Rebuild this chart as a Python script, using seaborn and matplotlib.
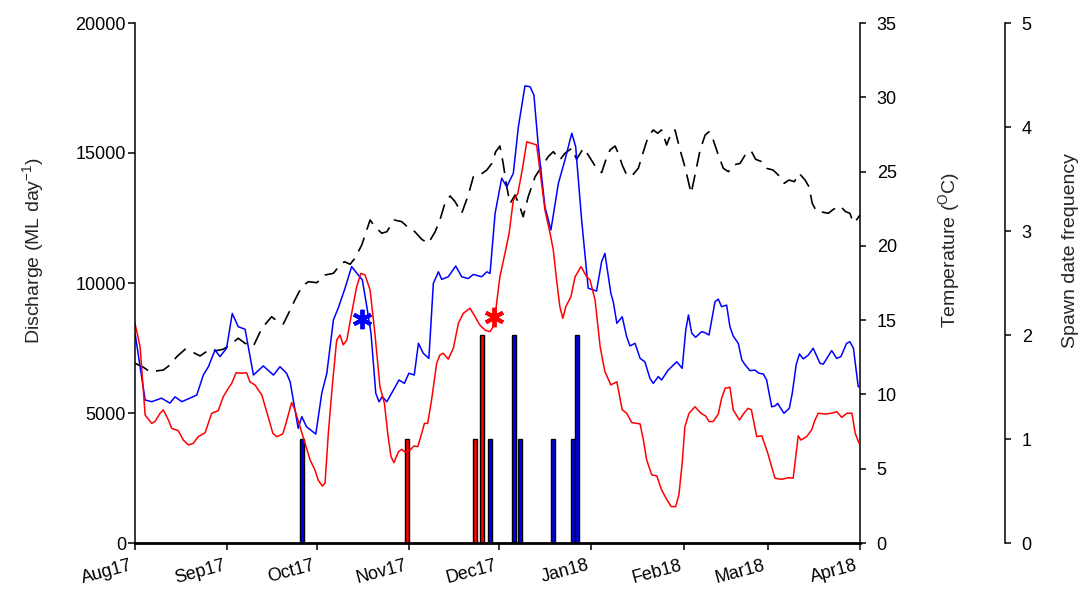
import numpy as np
import pandas as pd
import matplotlib
matplotlib.use("Agg")
import matplotlib.pyplot as plt
import matplotlib.dates as mdates
import matplotlib.transforms as mtransforms
import seaborn as sns

sns.set_style("ticks")
plt.rcParams['font.family'] = ['Liberation Sans', 'DejaVu Sans']
plt.rcParams['mathtext.default'] = 'regular'

START = pd.Timestamp("2017-08-01")

# Discharge site 1 (blue), days since 1 Aug 2017, ML/day
blue_day = [0, 3.4, 5.6, 8.9, 11.7, 13.4, 15.7, 20.7, 22.9, 24.6, 26.8, 28.5, 30.7, 32.6, 34.6, 36.9,
            39.7, 43.0, 46.4, 48.6, 50.8, 52.0, 54.7, 55.9, 57.5, 60.6, 62.6, 64.3, 66.5, 68.1, 70.4,
            72.6, 74.8, 76.2, 77.7, 79.1, 80.7, 81.8, 82.9, 84.4, 86.0, 88.5, 90.3, 91.8, 93.6, 95.0,
            96.6, 98.5, 100.0, 101.7, 102.8, 105.0, 107.5, 109.5, 111.7, 113.4, 116.2, 117.9, 119.0,
            120.7, 122.9, 124.6, 126.8, 128.5, 130.7, 132.4, 133.7, 135.2, 137.4, 139.4, 141.9, 144.1,
            146.4, 147.7, 149.7, 151.9, 154.7, 156.4, 157.5, 159.5, 160.3, 161.5, 163.3, 164.8, 165.9,
            167.6, 169.3, 170.9, 172.6, 173.7, 175.4, 176.5, 178.7, 181.6, 183.4, 184.6, 185.5, 186.6,
            187.9, 189.9, 191.0, 192.4, 194.4, 195.5, 196.6, 198.3, 199.4, 200.5, 202.2, 203.4, 204.5,
            206.1, 207.8, 209.1, 210.6, 211.7, 213.4, 214.5, 215.4, 217.5, 219.3, 220.3, 221.6, 222.7,
            224.0, 225.7, 227.3, 229.6, 230.7, 233.5, 235.2, 236.6, 238.5, 239.6, 240.8, 242.4, 243.0]
blue_q = [8080, 5500, 5435, 5570, 5380, 5620, 5435, 5690, 6460, 6780, 7420, 7170, 7490, 8830, 8320, 8220,
          6460, 6810, 6460, 6780, 6530, 6200, 4410, 4860, 4470, 4190, 5760, 6530, 8580, 9030, 9800,
          10630, 10310, 10120, 9090, 8070, 5760, 5430, 5630, 5430, 5760, 6270, 6140, 6530, 6460, 7680,
          7300, 7100, 9990, 10430, 10140, 10240, 10650, 10240, 10170, 10330, 10240, 10430, 10370,
          12680, 14030, 13700, 14220, 16010, 17580, 17550, 17230, 15240, 12930, 12040, 13830, 14730,
          15760, 15240, 12420, 9800, 9690, 10820, 11140, 9600, 9280, 8450, 8700, 7930, 7580,
          7680, 7100, 6970, 6330, 6140, 6400, 6270, 6650, 6970, 6720, 8190, 8770, 8070,
          7910, 8130, 8090, 8000, 9280, 9380, 9090, 9150, 8320, 7960, 7680, 7040, 6850,
          6630, 6650, 6530, 6500, 6270, 5240, 5270, 5370, 4990, 5180, 5760, 6850, 7270,
          7080, 7230, 7490, 6910, 6880, 7400, 7100, 7170, 7680, 7740, 7490, 6010, 6010]

# Discharge site 2 (red)
red_day = [0, 1.7, 3.4, 5.6, 6.7, 8.4, 9.5, 11.2, 12.3, 14.5, 16.2, 17.9, 19.5, 21.2, 23.5, 25.7, 27.9,
           29.6, 31.3, 32.4, 33.9, 35.8, 37.4, 38.5, 40.2, 42.5, 44.3, 46.2, 47.5, 49.5, 50.6, 52.5,
           53.6, 55.3, 57.0, 58.7, 60.3, 61.4, 62.8, 63.7, 64.8, 66.1, 67.6, 68.7, 69.8, 71.0, 72.6,
           74.3, 75.7, 77.1, 78.8, 80.4, 82.1, 83.6, 84.7, 85.8, 86.8, 88.3, 89.4, 90.8, 92.2, 93.5,
           94.8, 96.1, 97.0, 98.1, 99.4, 101.1, 102.2, 103.3, 105.0, 106.7, 108.4, 110.0, 112.3, 114.0,
           115.6, 117.3, 119.0, 120.4, 121.2, 122.3, 124.0, 125.4, 126.8, 128.3, 129.8, 131.3, 133.5,
           134.6, 135.7, 137.4, 139.1, 140.2, 141.3, 142.4, 143.4, 144.4, 146.1, 147.5, 149.5, 151.4,
           152.5, 154.2, 155.9, 157.5, 159.5, 161.5, 163.3, 164.8, 166.5, 169.3, 170.4, 171.5, 173.2,
           174.9, 176.5, 178.2, 179.7, 181.2, 182.3, 183.4, 184.3, 185.7, 187.7, 189.7, 191.3, 192.4,
           193.8, 195.5, 196.6, 197.8, 199.4, 200.5, 202.6, 204.1, 205.5, 206.6, 208.4, 210.1, 212.1,
           214.5, 216.8, 219.0, 220.6, 222.3, 223.2, 225.1, 226.8, 227.9, 229.0, 231.3, 233.5, 235.2,
           236.9, 238.6, 240.3, 241.4, 242.7]
red_q = [8450, 7550, 4920, 4600, 4670, 4990, 5120, 4730, 4410, 4320, 3960, 3770, 3830, 4090, 4240, 4990, 5090,
         5630, 5950, 6140, 6550, 6530, 6550, 6200, 6080, 5690, 4990, 4220, 4090, 4190, 4600, 5400,
         5120, 4470, 3830, 3190, 2810, 2420, 2190, 2300, 4220, 6010, 7810, 8000, 7620, 7810, 8830,
         9860, 10370, 10310, 9730, 8070, 6010, 5370, 4220, 3320, 3090, 3510, 3600, 3470, 3580, 3730,
         3710, 4220, 4600, 4600, 5500, 6910, 7230, 7300, 7070, 7490, 8450, 8830, 9030, 8700,
         8380, 8190, 8130, 8380, 9220, 10240, 11140, 11920, 13190, 13440, 14350, 15430, 15350,
         15310, 14350, 12810, 11920, 11270, 10120, 9090, 8640, 9090, 9470, 10240, 10630, 10240,
         10120, 9350, 7550, 6590, 6080, 6200, 5120, 4990, 4630, 4580, 3960, 3190, 2620,
         2580, 2040, 1680, 1400, 1400, 1850, 3070, 4470, 4990, 5240, 4990, 4880, 4670,
         4670, 4960, 5560, 5950, 5990, 5120, 4730, 4990, 5180, 5120, 4090, 4120, 3450,
         2490, 2450, 2510, 2490, 4120, 3960, 4090, 4350, 4730, 4990, 4960, 4990, 5050,
         4830, 4990, 4990, 4220, 3830]

# Water temperature (black dashed), deg C
temp_day = [0, 2.8, 5.0, 9.5, 11.7, 14.0, 16.8, 19.0, 21.8, 25.1, 27.4, 29.6, 31.8, 34.6, 36.9, 39.7,
            42.5, 45.8, 47.5, 49.7, 52.0, 53.6, 55.9, 58.1, 60.9, 63.7, 66.5, 68.7, 70.2, 72.1, 73.7,
            76.0, 78.8, 80.4, 82.7, 84.4, 86.9, 89.4, 91.6, 93.8, 96.1, 98.3, 100.6, 102.2, 103.7,
            105.6, 107.3, 109.5, 111.7, 113.4, 115.6, 117.9, 119.6, 120.9, 122.3, 123.4, 124.6, 125.7,
            127.4, 129.0, 130.1, 131.8, 134.1, 136.3, 138.5, 140.2, 142.4, 144.1, 146.4, 148.0, 150.3,
            151.9, 154.7, 156.4, 157.8, 159.2, 160.9, 162.0, 163.3, 164.8, 166.5, 168.7, 170.4, 172.0,
            173.7, 175.2, 176.5, 178.2, 179.7, 181.0, 182.7, 184.3, 186.4, 187.7, 189.4, 191.1, 192.4,
            193.8, 195.5, 197.2, 198.9, 200.5, 202.8, 204.5, 206.5, 208.0, 210.1, 211.7, 213.9, 215.6,
            217.6, 219.2, 221.0, 222.6, 224.6, 225.9, 227.0, 228.5, 230.7, 232.4, 234.1, 236.3, 238.2,
            239.6, 240.8, 242.0, 243.0]
temp_c = [12.1, 11.83, 11.53, 11.64, 11.98, 12.54, 13.04, 12.88, 12.59, 13.04, 12.95, 13.04, 13.33, 13.78,
          13.44, 13.26, 14.45, 15.23, 14.96, 14.74, 15.68, 16.36, 17.25, 17.59, 17.52, 18.04, 18.15,
          18.71, 18.93, 18.76, 19.16, 20.06, 21.74, 21.29, 20.85, 20.95, 21.74, 21.63, 21.22, 20.95,
          20.44, 20.17, 20.95, 21.74, 22.75, 23.36, 22.97, 22.19, 23.42, 24.65, 24.77, 25.1, 25.55,
          26.34, 26.72, 25.55, 23.98, 22.86, 23.42, 22.63, 21.96, 23.31, 24.65, 25.33, 26.0, 26.34,
          25.78, 26.23, 26.57, 25.83, 26.57, 26.12, 25.22, 24.93, 25.78, 26.45, 26.72, 26.23, 25.44,
          24.77, 24.70, 25.22, 26.34, 27.35, 27.8, 27.58, 27.8, 26.79, 27.58, 27.8, 26.45, 25.33,
          23.54, 24.77, 26.45, 27.46, 27.68, 27.13, 26.12, 25.22, 24.99, 25.44, 25.55, 26.12, 26.4,
          25.83, 25.66, 25.22, 25.1, 24.77, 24.21, 24.43, 24.32, 24.88, 24.43, 23.98, 22.86, 22.3,
          22.26, 22.19, 22.46, 22.68, 22.3, 22.19, 21.56, 21.79, 22.08]

# Spawn dates (frequency)
spawn_blue_day = [56.0, 119.1, 127.1, 129.1, 140.1, 146.9, 148.0]
spawn_blue_n = [1, 1, 2, 1, 1, 1, 2]
spawn_red_day = [91.2, 114.1, 116.2]
spawn_red_n = [1, 1, 2]

# Asterisks
star_day = [76.2, 120.2]
star_q = [8600, 8700]
star_col = ["blue", "red"]


def to_dates(days):
    return START + pd.to_timedelta(np.asarray(days, dtype=float), unit="D")


W, H = 1084, 592
fig = plt.figure(figsize=(W / 100, H / 100), dpi=100)
L, R, T, B = 135, 860, 23, 543
ax = fig.add_axes([L / W, 1 - B / H, (R - L) / W, (B - T) / H])
ax2 = ax.twinx()
ax3 = ax.twinx()
ax3.spines['right'].set_position(('axes', 1 + 145 / (R - L)))

# bars (spawn frequency)
bw = pd.Timedelta(days=1.3)
ax3.bar(to_dates(spawn_blue_day), spawn_blue_n, width=bw, color="#0000ee", edgecolor="black", linewidth=1.0, zorder=2)
ax3.bar(to_dates(spawn_red_day), spawn_red_n, width=bw, color="#ff0000", edgecolor="black", linewidth=1.0, zorder=2)

# discharge lines
sns.lineplot(x=to_dates(blue_day), y=blue_q, ax=ax, color="#0000ff", lw=1.1, estimator=None, sort=False)
sns.lineplot(x=to_dates(red_day), y=red_q, ax=ax, color="#ff0000", lw=1.1, estimator=None, sort=False)
sns.lineplot(x=to_dates(temp_day), y=temp_c, ax=ax2, color="black", lw=1.2, estimator=None, sort=False)
ax2.lines[-1].set_dashes((9, 5))

for d, q, c in zip(star_day, star_q, star_col):
    ax.plot(to_dates([d]), [q], marker=(6, 2, 0), color=c, markersize=14, mew=2.8, linestyle="none", zorder=5)

# axes limits
xmin, xmax = pd.Timestamp("2017-08-01"), pd.Timestamp("2018-04-01")
ax.set_xlim(xmin, xmax)
ax.set_ylim(0, 20000)
ax2.set_ylim(0, 35)
ax3.set_ylim(0, 5)

ax.set_zorder(3)
ax.patch.set_visible(False)
ax2.set_zorder(2)
ax3.set_zorder(1)

ax.xaxis.set_major_locator(mdates.MonthLocator())
ax.xaxis.set_major_formatter(mdates.DateFormatter("%b%y"))
ax.set_yticks([0, 5000, 10000, 15000, 20000])
ax2.set_yticks([0, 5, 10, 15, 20, 25, 30, 35])
ax3.set_yticks([0, 1, 2, 3, 4, 5])

fs = 13
lfs = 14
for a in (ax, ax2, ax3):
    for s in ('top', 'left', 'bottom', 'right'):
        a.spines[s].set_visible(False)
        a.spines[s].set_color('black')
    a.grid(False)
ax.spines['left'].set_visible(True)
ax.spines['bottom'].set_visible(True)
ax.spines['left'].set_linewidth(1.1)
ax.spines['bottom'].set_linewidth(2.0)
ax2.spines['right'].set_visible(True)
ax2.spines['right'].set_linewidth(1.1)
ax3.spines['right'].set_visible(True)
ax3.spines['right'].set_linewidth(1.1)

ax.tick_params(axis='y', direction='out', length=5, width=1.1, pad=1.5, labelsize=fs, colors='black')
ax.tick_params(axis='x', direction='out', length=5, width=1.1, pad=5, labelsize=fs, colors='black')
ax2.tick_params(axis='y', direction='out', length=4, width=1.1, pad=8, labelsize=fs, colors='black')
ax3.tick_params(axis='y', direction='out', length=4, width=1.1, pad=8, labelsize=fs, colors='black')

offset = mtransforms.ScaledTranslation(-5 / 100, 0, fig.dpi_scale_trans)
for lab in ax.get_xticklabels():
    lab.set_rotation(15)
    lab.set_ha('right')
    lab.set_rotation_mode('anchor')
    lab.set_transform(lab.get_transform() + offset)

label_y = 0.563
ax.set_ylabel("Discharge (ML day$^{-1}$)", fontsize=lfs, labelpad=21, y=label_y)
ax2.set_ylabel("Temperature ($^{O}$C)", fontsize=lfs, labelpad=28, y=label_y)
ax3.set_ylabel("Spawn date frequency", fontsize=lfs, labelpad=22, y=label_y)
ax.set_xlabel("")

fig.savefig("out.png", dpi=100)
